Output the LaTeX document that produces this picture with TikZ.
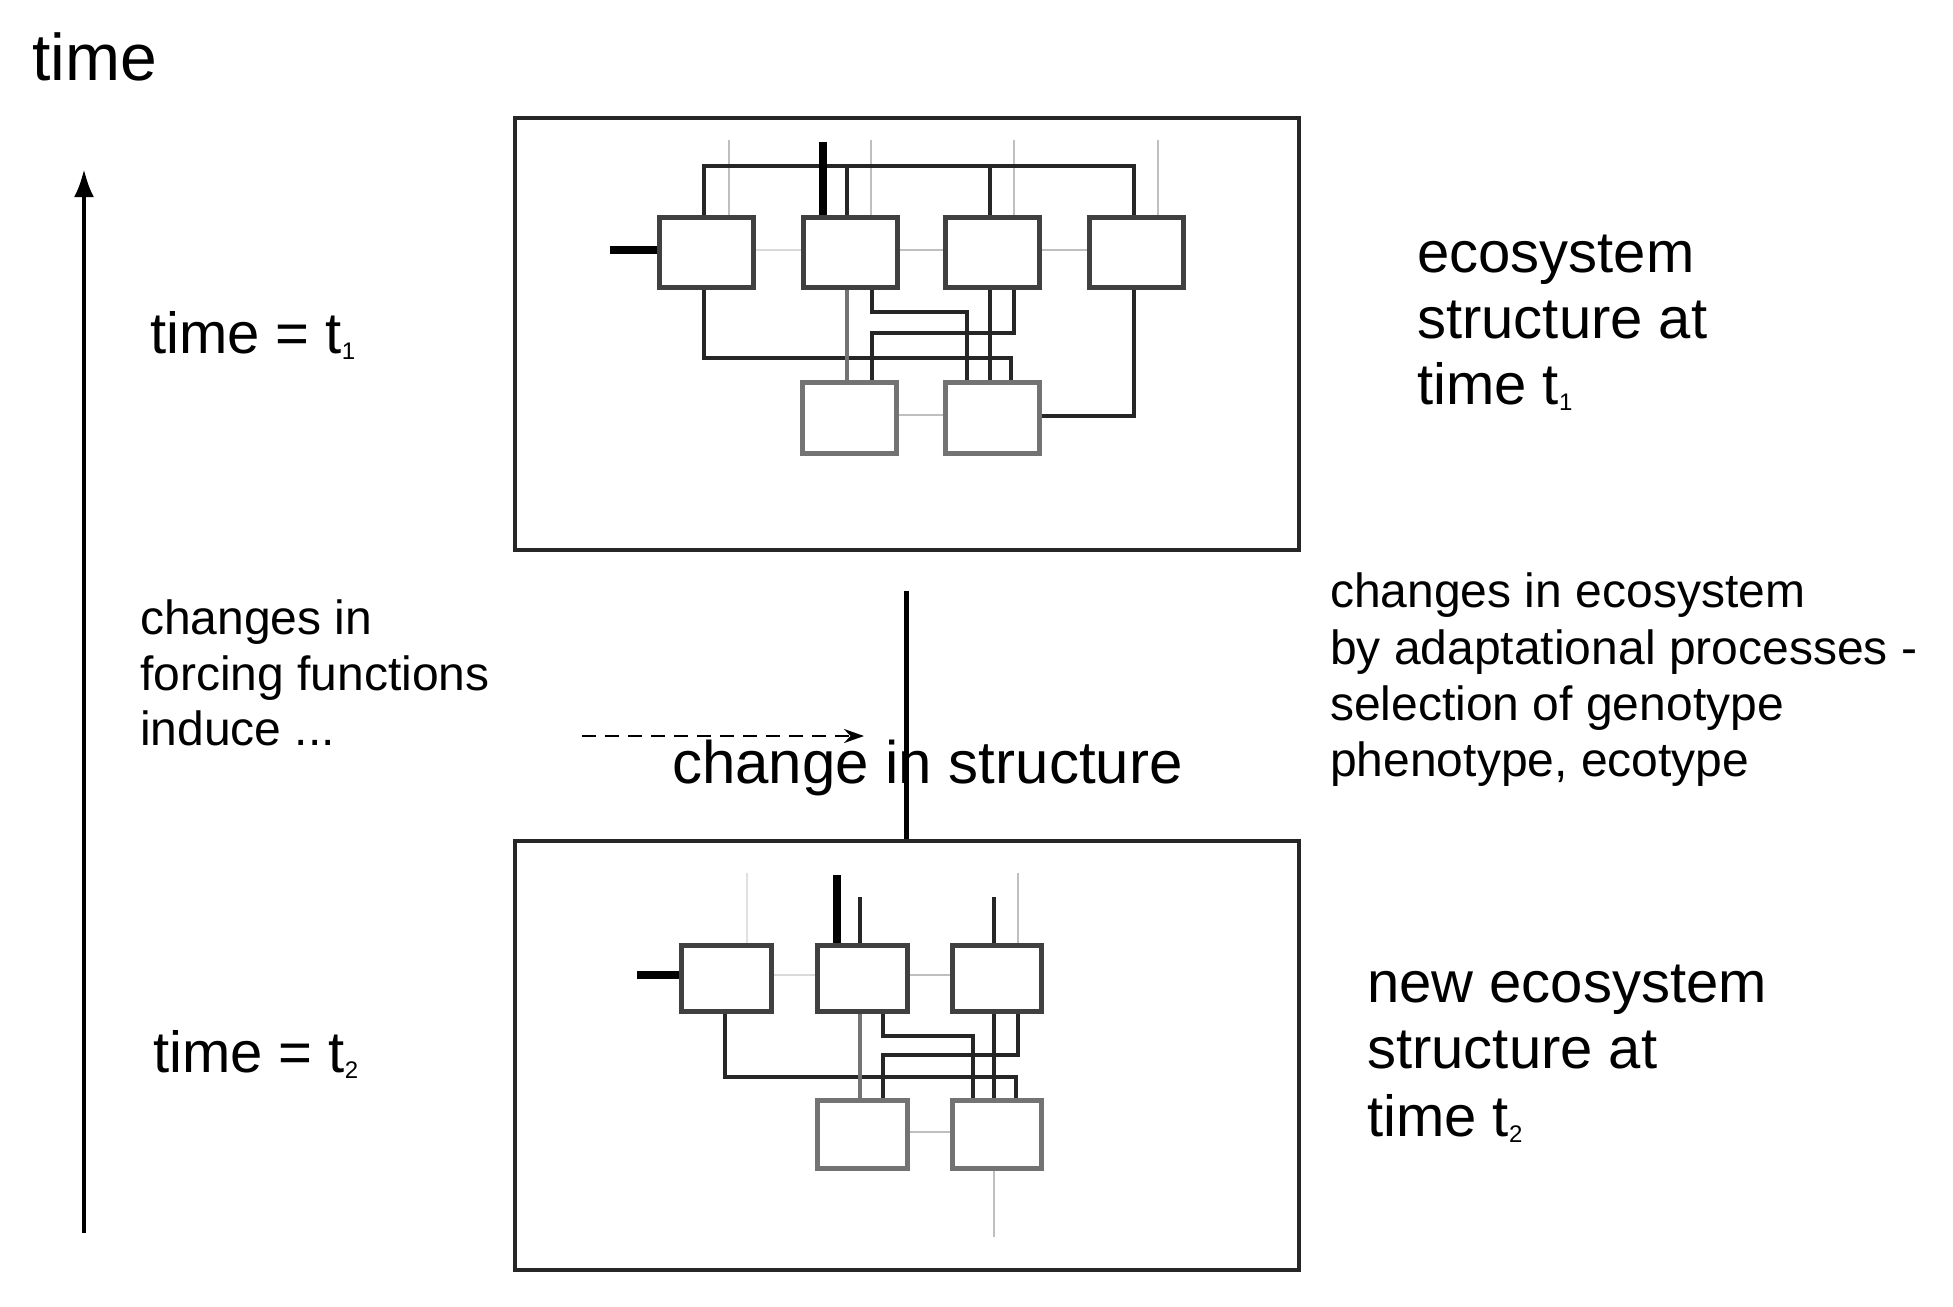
\documentclass[tikz,border=0pt]{standalone}
\usepackage{fontspec}
\setmainfont{Liberation Sans}
\usetikzlibrary{arrows.meta}
\newcommand{\mysub}[1]{\raisebox{-6pt}{\fontsize{24}{24}\selectfont #1}}
\begin{document}
\begin{tikzpicture}[x=1pt,y=-1pt,
  frame/.style={draw=black!85,line width=3.5pt},
  blk/.style={draw=black!75,line width=4.5pt,fill=white},
  blg/.style={draw=black!55,line width=4.5pt,fill=white},
  ln/.style={draw=black!85,line width=4pt},
  gl/.style={draw=black!25,line width=2.5pt},
  thk/.style={draw=black,line width=8pt},
  big/.style={font=\fontsize{58}{66}\selectfont,anchor=base west,inner sep=0},
  sm/.style={font=\fontsize{48}{56}\selectfont,anchor=base west,inner sep=0}]
\useasboundingbox (0,0) rectangle (1953,1306);
% time axis
\coordinate (ta) at (84,1233); \coordinate (tb) at (84,169);
\draw[line width=4pt,-{Latex[length=28pt,width=20pt]}] (ta) -- (tb);
\node[big,font=\fontsize{66}{70}\selectfont] (time) at (32,81) {time};
\node[big] (tt1) at (150,353) {time = t\mysub{1}};
\node[big] (tt2) at (153,1072) {time = t\mysub{2}};
% frames
\node[frame,minimum width=784pt,minimum height=432pt,anchor=north west,inner sep=0] (F1) at (513,116) {};
\node[frame,minimum width=784pt,minimum height=429pt,anchor=north west,inner sep=0] (F2) at (513,839) {};
% labels right
\node[big] (e1) at (1417,272) {ecosystem};
\node[big] (e2) at (1417,338) {structure at};
\node[big] (e3) at (1417,404) {time t\mysub{1}};
\node[big] (n1) at (1367,1002) {new ecosystem};
\node[big] (n2) at (1367,1068) {structure at};
\node[big] (n3) at (1367,1136) {time t\mysub{2}};
\node[sm] (c1) at (140,634) {changes in};
\node[sm] (c2) at (140,690) {forcing functions};
\node[sm] (c3) at (140,745) {induce ...};
\node[sm] (r1) at (1330,607) {changes in ecosystem};
\node[sm] (r2) at (1330,664) {by adaptational processes -};
\node[sm] (r3) at (1330,720) {selection of genotype};
\node[sm] (r4) at (1330,776) {phenotype, ecotype};
% middle
\coordinate (da) at (582,736); \coordinate (db) at (864,736);
\draw[line width=2.5pt,dash pattern=on 14pt off 9pt,-{Stealth[length=20pt,width=14pt]}] (da) -- (db);
\coordinate (va) at (906,591);
\draw[line width=5pt] (va) -- (F2.north -| va);
\node[big,font=\fontsize{60}{66}\selectfont] (cs) at (672,783) {change in structure};
% ---------- top network ----------
\draw[gl] (729,140) -- (729,215); \draw[gl] (871,140) -- (871,215);
\draw[gl] (1014,140) -- (1014,215); \draw[gl] (1158,140) -- (1158,215);
\draw[gl,black!15] (751,250) -- (801,250); \draw[gl] (895,250) -- (943,250);
\draw[gl] (1037,250) -- (1087,250); \draw[gl] (894,415) -- (943,415);
\draw[ln] (704,215) |- (1134,166) -- (1134,215);
\draw[ln] (847,166) -- (847,215); \draw[ln] (990,166) -- (990,215);
\draw[ln] (704,285) |- (1011,358) -- (1011,380);
\draw[ln,black!55] (847,285) -- (847,380);
\draw[ln] (872,285) |- (967,312) -- (967,380);
\draw[ln] (990,285) -- (990,380);
\draw[ln] (1014,285) |- (872,333) -- (872,380);
\draw[ln] (1134,285) |- (1037,416);
\draw[thk] (823,142) -- (823,215);
\draw[thk] (610,250) -- (657,250);
\node[blk,minimum width=94pt,minimum height=70pt,anchor=north west,inner sep=0] (A) at (657,215) {};
\node[blk,minimum width=94pt,minimum height=70pt,anchor=north west,inner sep=0] (B) at (801,215) {};
\node[blk,minimum width=94pt,minimum height=70pt,anchor=north west,inner sep=0] (C) at (943,215) {};
\node[blk,minimum width=94pt,minimum height=70pt,anchor=north west,inner sep=0] (D) at (1087,215) {};
\node[blg,minimum width=94pt,minimum height=71pt,anchor=north west,inner sep=0] (E) at (800,380) {};
\node[blg,minimum width=94pt,minimum height=71pt,anchor=north west,inner sep=0] (G) at (943,380) {};
% ---------- bottom network ----------
\draw[gl,black!12] (747,873) -- (747,943);
\draw[gl] (1018,873) -- (1018,943);
\draw[gl] (994,1166) -- (994,1237);
\draw[gl,black!15] (769,975) -- (815,975);
\draw[gl] (905,975) -- (950,975);
\draw[gl] (905,1132) -- (950,1132);
\draw[ln] (860,897) -- (860,943); \draw[ln] (994,897) -- (994,943);
\draw[ln] (725,1009) |- (1016,1077) -- (1016,1098);
\draw[ln,black!55] (860,1009) -- (860,1098);
\draw[ln] (883,1009) |- (973,1036) -- (973,1098);
\draw[ln] (994,1009) -- (994,1098);
\draw[ln] (1018,1009) |- (883,1055) -- (883,1098);
\draw[thk] (837,875) -- (837,943);
\draw[thk] (637,975) -- (679,975);
\node[blk,minimum width=90pt,minimum height=66pt,anchor=north west,inner sep=0] (P) at (679,943) {};
\node[blk,minimum width=90pt,minimum height=66pt,anchor=north west,inner sep=0] (Q) at (815,943) {};
\node[blk,minimum width=89pt,minimum height=66pt,anchor=north west,inner sep=0] (R) at (950,943) {};
\node[blg,minimum width=90pt,minimum height=68pt,anchor=north west,inner sep=0] (S) at (815,1098) {};
\node[blg,minimum width=89pt,minimum height=68pt,anchor=north west,inner sep=0] (T) at (950,1098) {};
\end{tikzpicture}
\end{document}
